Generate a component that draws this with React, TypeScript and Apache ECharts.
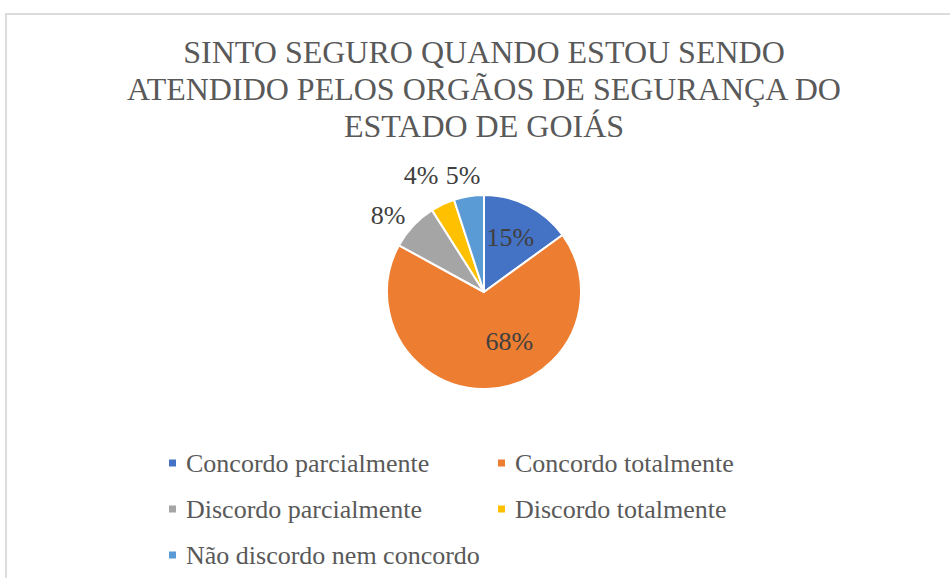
import React, { useEffect, useRef } from 'react';
import * as echarts from 'echarts';

const TITLE_LINES = [
  'SINTO SEGURO QUANDO ESTOU SENDO',
  'ATENDIDO PELOS ORGÃOS DE SEGURANÇA DO',
  'ESTADO DE GOIÁS',
];
const categories = [
  'Concordo parcialmente',
  'Concordo totalmente',
  'Discordo parcialmente',
  'Discordo totalmente',
  'Não discordo nem concordo',
];
const values = [15, 68, 8, 4, 5];
const colors = ['#4472C4', '#ED7D31', '#A5A5A5', '#FFC000', '#5B9BD5'];

const FONT = 'Liberation Serif, Times New Roman, serif';

export default function App() {
  const ref = useRef<HTMLDivElement>(null);
  useEffect(() => {
    if (!ref.current) return;
    const chart = echarts.init(ref.current, null, { renderer: 'svg' });
    const nudges: Record<number, [number, number]> = {
      0: [3, -9],
      1: [22, -2],
      2: [3, 0],
      3: [2, -15],
      4: [14, -6],
    };
    const data = categories.map((name, i) => {
      const outside = values[i] < 10;
      return {
        name,
        value: values[i],
        itemStyle: { color: colors[i] },
        label: outside
          ? { position: 'outside', distanceToLabelLine: 0 }
          : { position: 'inside' },
        labelLine: { show: false, length: 15, length2: 0 },
      };
    });
    chart.setOption({
      animation: false,
      backgroundColor: '#ffffff',
      legend: {
        left: 167,
        top: 447,
        width: 700,
        padding: 0,
        itemGap: 14,
        itemWidth: 9,
        itemHeight: 9,
        icon: 'rect',
        selectedMode: false,
        textStyle: {
          fontFamily: FONT,
          fontSize: 26,
          color: '#595959',
          lineHeight: 32,
          width: 296,
          padding: [0, 0, 0, 4],
        },
        data: categories,
      },
      graphic: [
        {
          type: 'rect',
          shape: { x: 6, y: 14, width: 1200, height: 1000 },
          style: { fill: 'none', stroke: '#DCDCDC', lineWidth: 2 },
          silent: true,
          z: -10,
        },
        ...TITLE_LINES.map((line, i) => ({
          type: 'text',
          x: 484,
          y: 52 + i * 37,
          silent: true,
          style: {
            text: line,
            fontFamily: FONT,
            fontSize: 32,
            fill: '#595959',
            align: 'center',
            verticalAlign: 'middle',
          },
        })),
      ],
      series: [
        {
          type: 'pie',
          center: [484, 292],
          radius: 97,
          startAngle: 90,
          clockwise: true,
          avoidLabelOverlap: false,
          itemStyle: { borderColor: '#ffffff', borderWidth: 2 },
          label: {
            show: true,
            formatter: '{c}%',
            fontFamily: FONT,
            fontSize: 26,
            color: '#404040',
          },
          emphasis: { disabled: true },
          labelLayout: (params: any) => {
            const n = nudges[params.dataIndex] || [0, 0];
            return { dx: n[0], dy: n[1] };
          },
          data,
        },
      ],
    });
    return () => chart.dispose();
  }, []);
  return (
    <div
      ref={ref}
      style={{ position: 'absolute', left: 0, top: 0, width: 950, height: 578 }}
    />
  );
}
